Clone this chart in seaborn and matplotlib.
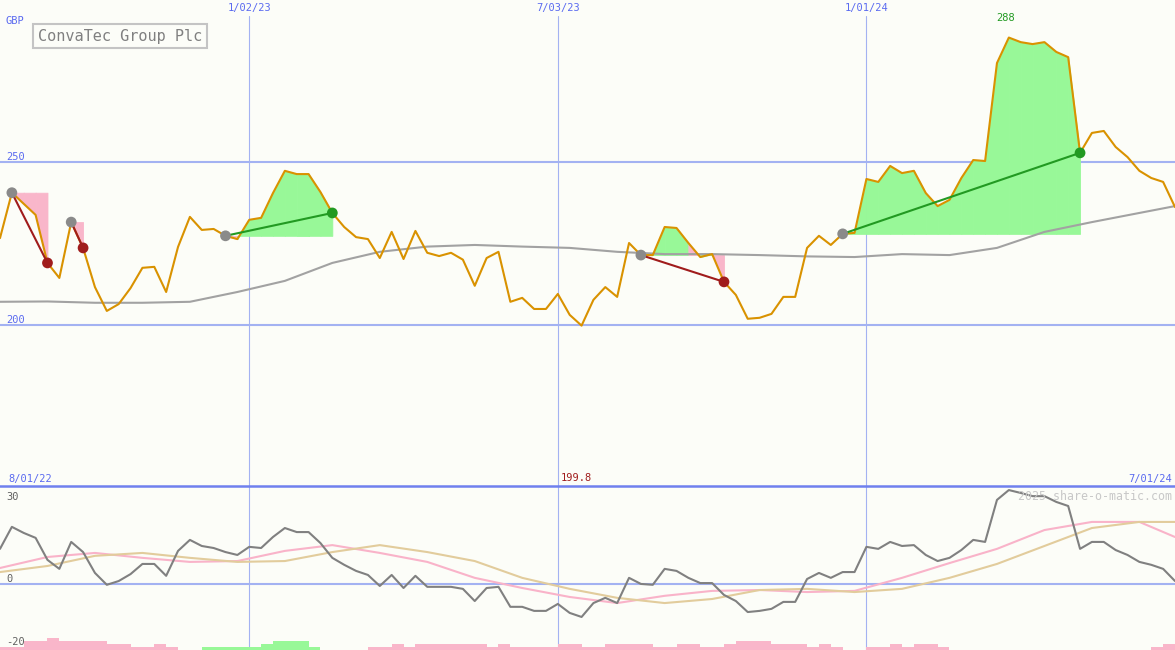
import pandas as pd
import seaborn as sns
import matplotlib.pyplot as plt
import matplotlib.dates as mdates
from datetime import timedelta

# Dados semanais (GBP)
weeks = pd.date_range('2022-08-08', periods=100, freq='7D')

price = [226.6, 240.5, 237.1, 233.7, 219.0, 214.4, 231.5, 223.6, 211.6, 204.3,
         206.4, 211.3, 217.5, 217.8, 210.1, 223.9, 233.1, 229.1, 229.4, 227.3,
         226.3, 232.2, 232.8, 240.4, 247.2, 246.2, 246.2, 240.7, 234.3, 230.0,
         226.9, 226.3, 220.5, 228.5, 220.2, 228.8, 222.1, 221.1, 222.1, 220.0,
         212.0, 220.5, 222.4, 207.1, 208.3, 204.9, 204.9, 209.5, 203.1, 199.8,
         207.7, 211.6, 208.6, 225.1, 221.4, 221.4, 230.0, 229.7, 225.1, 220.8,
         221.7, 213.2, 209.2, 201.9, 202.2, 203.4, 208.6, 208.6, 223.6, 227.3,
         224.5, 227.9, 228.2, 244.7, 243.8, 248.7, 246.5, 247.2, 240.4, 236.4,
         238.3, 245.0, 250.5, 250.2, 280.2, 288.0, 286.6, 286.0, 286.6, 283.6,
         282.0, 252.7, 258.8, 259.4, 254.5, 251.4, 247.2, 245.0, 243.8, 236.1]

# media movel (amostrada a cada 4 semanas)
ma_weeks = list(range(0, 100, 4)) + [99]
ma_price = [207.1, 207.2, 206.8, 206.8, 207.1, 210.1, 213.5, 219.0, 222.4, 224.0,
            224.5, 224.0, 223.6, 222.4, 221.7, 221.7, 221.4, 221.0, 220.8, 221.7,
            221.4, 223.6, 228.5, 231.5, 234.3, 236.4]

# painel inferior
osc = [12.1, 19.7, 17.6, 15.9, 8.3, 5.2, 14.5, 11.0, 3.8, -0.3,
       1.0, 3.4, 6.9, 6.9, 2.8, 11.4, 15.2, 13.1, 12.4, 11.0,
       10.0, 12.8, 12.4, 16.2, 19.3, 17.9, 17.9, 14.1, 9.0, 6.6,
       4.5, 3.1, -0.7, 3.1, -1.4, 2.8, -1.0, -1.0, -1.0, -1.7,
       -5.9, -1.4, -1.0, -7.9, -7.9, -9.3, -9.3, -6.9, -10.0, -11.4,
       -6.6, -4.8, -6.6, 2.1, 0.0, -0.3, 5.2, 4.5, 2.1, 0.3,
       0.3, -3.8, -5.9, -9.7, -9.3, -8.6, -6.2, -6.2, 1.7, 3.8,
       2.1, 4.1, 4.1, 12.8, 12.1, 14.5, 13.1, 13.4, 10.0, 7.9,
       9.0, 11.7, 15.2, 14.5, 29.0, 32.4, 31.4, 30.3, 30.3, 28.3,
       26.9, 12.1, 14.5, 14.5, 11.7, 10.0, 7.6, 6.6, 5.2, 1.0]
osc_fast = [5.5, 9.3, 10.7, 9.0, 7.6, 7.9, 11.4, 13.4, 10.7, 7.6, 2.1, -1.4, -4.5,
            -6.6, -4.1, -2.4, -2.1, -2.8, -2.4, 2.1, 7.2, 12.1, 18.6, 21.4, 21.4, 16.2]
osc_slow = [4.1, 6.2, 9.7, 10.7, 9.0, 7.6, 7.9, 11.0, 13.4, 11.0, 7.9, 2.1, -1.7,
            -4.8, -6.6, -5.2, -2.1, -1.7, -2.8, -1.7, 2.1, 6.9, 13.1, 19.3, 21.4, 21.4]
momentum = [-1, -1, -3, -3, -4, -3, -3, -3, -3, -2,
            -2, -1, -1, -2, -1, 0, 0, 1, 1, 1,
            1, 1, 2, 3, 3, 3, 1, 0, 0, 0,
            0, -1, -1, -2, -1, -2, -2, -2, -2, -2,
            -2, -1, -2, -1, -1, -1, -1, -2, -2, -1,
            -1, -2, -2, -2, -2, -1, -1, -2, -2, -1,
            -1, -2, -3, -3, -3, -2, -2, -2, -1, -2,
            -1, 0, 0, -1, -1, -2, -1, -2, -2, -1,
            0, 0, 0, 0, 0, 0, 0, 0, 0, 0,
            0, 0, 0, 0, 0, 0, 0, -1, -2, 0]

# operacoes (indice da semana de entrada e saida)
trade_in = [1, 6, 19, 54, 71]
trade_out = [4, 7, 28, 61, 91]

grid_dates = pd.to_datetime(['2023-01-02', '2023-07-03', '2024-01-01'])
grid_labels = ['1/02/23', '7/03/23', '1/01/24']
start_label, end_label = '8/01/22', '7/01/24'
price_lines = [250, 200]
low_labels = [30, 0, -20]

# cores
bg = '#fcfdf8'
grid = '#a3b2f2'
blue = '#5a6af0'
green_fill = '#98f898'
pink_fill = '#f9b6ca'
win_col = '#229a22'
loss_col = '#a01c1c'

sns.set_theme(style='white')
plt.rcParams['font.family'] = ['DejaVu Sans Mono', 'DejaVu Sans']

df = pd.DataFrame({'week': weeks, 'price': price, 'osc': osc})
df_ma = pd.DataFrame({'week': weeks[ma_weeks], 'ma': ma_price,
                      'fast': osc_fast, 'slow': osc_slow})

fig = plt.figure(figsize=(11.75, 6.5), dpi=100, facecolor=bg)
ax = fig.add_axes([0, 164 / 650, 1, 486 / 650])
ax_low = fig.add_axes([0, 0, 1, 164 / 650])

# ---- painel principal ----
ax.set_facecolor(bg)
for v in price_lines:
    ax.axhline(v, color=grid, lw=1.5, zorder=0.5)
for d in grid_dates:
    ax.axvline(d, ymax=0.967, color=grid, lw=0.8, zorder=0.5)

marks = []
for a, b in zip(trade_in, trade_out):
    base = price[a]
    for k in range(a, b):
        col = green_fill if price[k + 1] >= base else pink_fill
        ax.fill_between(weeks[k:k + 2], price[k:k + 2], base, facecolor=col,
                        edgecolor=col, lw=0.6, zorder=1)
    kind = 'win' if price[b] > base else 'loss'
    ax.plot([weeks[a], weeks[b]], [base, price[b]],
            color=win_col if kind == 'win' else loss_col, lw=1.5, zorder=4)
    marks.append({'week': weeks[a], 'px': base, 'kind': 'entry'})
    marks.append({'week': weeks[b], 'px': price[b], 'kind': kind})

sns.lineplot(data=df_ma, x='week', y='ma', ax=ax, color='#a2a2a2', linewidth=1.5, zorder=2)
sns.lineplot(data=df, x='week', y='price', ax=ax, color='#d99200', linewidth=1.5, zorder=3)
sns.scatterplot(data=pd.DataFrame(marks), x='week', y='px', hue='kind', ax=ax,
                palette={'entry': '#8a8a8a', 'win': win_col, 'loss': loss_col},
                s=60, linewidth=0, legend=False, zorder=5)

ax.set_xlim(weeks[0], weeks[-1])
ax.set_ylim(150.7, 299.5)

xa = ax.get_xaxis_transform()
ya = ax.get_yaxis_transform()
ax.text(6 / 1175, 1 - 21 / 486, 'GBP', transform=ax.transAxes, color=blue,
        fontsize=7.5, va='center')
for v in price_lines:
    ax.text(6 / 1175, v, str(v), transform=ya, color=blue, fontsize=7.5, va='bottom')
for d, lab in zip(grid_dates, grid_labels):
    ax.text(mdates.date2num(d), 1 - 8 / 486, lab, transform=xa, color=blue, fontsize=7.5,
            ha='center', va='center')
ax.text(8 / 1175, 7 / 486, start_label, transform=ax.transAxes, color=blue,
        fontsize=7.5, va='center')
ax.text(1172 / 1175, 7 / 486, end_label, transform=ax.transAxes, color=blue,
        fontsize=7.5, va='center', ha='right')

# maximo e minimo
imax = price.index(max(price))
imin = price.index(min(price))
ax.annotate(f'{max(price):.0f}', (mdates.date2num(weeks[imax]), max(price)), xytext=(-2, 14),
            textcoords='offset points', ha='center', va='center', color=win_col, fontsize=7.5)
ax.annotate(f'{min(price):.1f}', (mdates.date2num(weeks[imin]), 0), xycoords=xa, xytext=(-4, 6),
            textcoords='offset points', ha='center', va='center', color=loss_col, fontsize=7.5)

ax.text(120 / 1175, 1 - 36 / 486, 'ConvaTec Group Plc', transform=ax.transAxes,
        ha='center', va='center', fontsize=11, color='#808080',
        bbox=dict(boxstyle='square,pad=0.3', fc=bg, ec='#c4c4c4', lw=1.5))

ax.set(xticks=[], yticks=[], xlabel='', ylabel='')
sns.despine(ax=ax, left=True, bottom=True)

# ---- painel inferior ----
ax_low.set_facecolor(bg)
ax_low.axhline(0, color=grid, lw=1.5, zorder=0.5)
for d in grid_dates:
    ax_low.axvline(d, color=grid, lw=0.8, zorder=0.5)

sns.lineplot(data=df_ma, x='week', y='fast', ax=ax_low, color='#f9b3c9', linewidth=1.5)
sns.lineplot(data=df_ma, x='week', y='slow', ax=ax_low, color='#e2cc9c', linewidth=1.5)
sns.lineplot(data=df, x='week', y='osc', ax=ax_low, color='#808080', linewidth=1.5)

ax_low.set_xlim(weeks[0], weeks[-1])
ax_low.set_ylim(-22.8, 33.8)
yl = ax_low.get_yaxis_transform()
for v in low_labels:
    ax_low.text(6 / 1175, v, str(v), transform=yl, color='#606060', fontsize=7.5,
                va='bottom' if v == 0 else 'center')
ax_low.text(1172 / 1175, 1 - 10 / 164, '2025 share-o-matic.com', transform=ax_low.transAxes,
            ha='right', va='center', color='#c8c8c8', fontsize=8.4)

ax_low.set(xticks=[], yticks=[], xlabel='', ylabel='')
sns.despine(ax=ax_low, top=False, left=True, bottom=True)
ax_low.spines['top'].set_color('#6f80ee')
ax_low.spines['top'].set_linewidth(1.8)

# barras de momento
ax_bar = ax_low.twinx()
ax_bar.bar(weeks, [abs(m) for m in momentum], width=timedelta(days=7), align='edge',
           color=[green_fill if m > 0 else pink_fill for m in momentum], lw=0)
ax_bar.set_ylim(0, 164 / 3)
ax_bar.set(yticks=[], ylabel='')
sns.despine(ax=ax_bar, left=True, bottom=True)
ax_low.set_xlim(weeks[0], weeks[-1])

fig.savefig('out.png', dpi=100, facecolor=bg)
